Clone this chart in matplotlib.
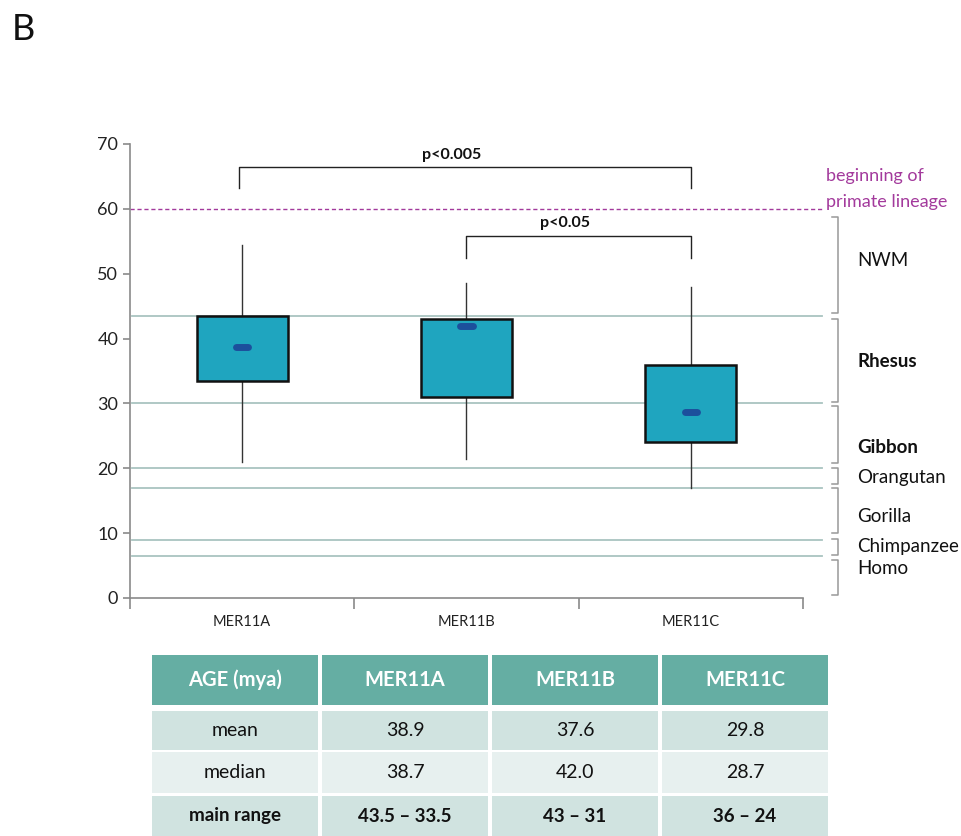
import matplotlib.pyplot as plt
from matplotlib.patches import Rectangle

plt.rcParams['font.family'] = ['Lato', 'DejaVu Sans']

# box plot data (mya)
categories = ['MER11A', 'MER11B', 'MER11C']
box_top = [43.5, 43.0, 36.0]
box_bottom = [33.5, 31.0, 24.0]
medians = [38.7, 42.0, 28.7]
whisker_high = [54.5, 48.5, 48.0]
whisker_low = [21.0, 21.5, 17.0]

# lineage boundaries and labels
boundaries = [43.5, 30, 20, 17, 9, 6.5]
lineage_names = ['NWM', 'Rhesus', 'Gibbon', 'Orangutan', 'Gorilla', 'Chimpanzee', 'Homo']
lineage_top = [58.8, 43.0, 29.6, 20.0, 17.0, 9.1, 5.9]
lineage_bottom = [44.0, 30.2, 20.8, 17.6, 10.0, 6.6, 0.5]
lineage_label_y = [52, 36.4, 23.2, 18.6, 12.6, 7.9, 4.5]
lineage_bold = [False, True, True, False, False, False, False]
primate_start = 60

# significance brackets: (left idx, right idx, bar height, leg bottom, text)
sig_pairs = [(0, 2, 66.4, 63.2, 'p<0.005'), (1, 2, 55.8, 52.5, 'p<0.05')]

# table
table_header = ['AGE (mya)', 'MER11A', 'MER11B', 'MER11C']
table_rows = [
    ['mean', '38.9', '37.6', '29.8'],
    ['median', '38.7', '42.0', '28.7'],
    ['main range', '43.5 \u2013 33.5', '43 \u2013 31', '36 \u2013 24'],
]
row_colors = ['#d0e3e0', '#e7f0ef', '#d0e3e0']
row_bold = [False, False, True]

box_color = '#1fa5bf'
line_color = '#a9c4c0'
purple = '#a33a9c'

fig = plt.figure(figsize=(9.61, 8.36), dpi=100)
fig.text(0.012, 0.965, 'B', fontsize=26, va='center', ha='left', color='#111')

ax = fig.add_axes([130 / 961, 1 - 598 / 836, 673 / 961, 454 / 836])
ax.set_xlim(-0.5, 2.5)
ax.set_ylim(0, 70)

# reference lines
for b in boundaries:
    ax.plot([-0.49, 2.585], [b, b], color=line_color, lw=1.3, clip_on=False, zorder=1)
ax.plot([-0.5, 2.585], [primate_start, primate_start], color=purple, lw=1,
        ls=(0, (3, 2)), clip_on=False, zorder=1)
ax.text(2.603, 65.0, 'beginning of', color=purple, fontsize=13, va='center', ha='left')
ax.text(2.603, 61.0, 'primate lineage', color=purple, fontsize=13, va='center', ha='left')

# boxes
bw = 0.405
for i in range(len(categories)):
    ax.plot([i, i], [box_top[i], whisker_high[i]], color='#333', lw=1, zorder=2)
    ax.plot([i, i], [whisker_low[i], box_bottom[i]], color='#333', lw=1, zorder=2)
    ax.add_patch(Rectangle((i - bw / 2, box_bottom[i]), bw, box_top[i] - box_bottom[i],
                           facecolor=box_color, edgecolor='#111', lw=1.8, zorder=3))
    ax.plot([i - 0.028, i + 0.028], [medians[i], medians[i]], color='#1c4f9c', lw=5,
            solid_capstyle='round', zorder=4)

# significance brackets
for left, right, top, leg, label in sig_pairs:
    xl = left - 0.015 if left == 0 else left
    ax.plot([xl, xl, right, right], [leg, top, top, leg], color='#222', lw=1, zorder=2)
    ax.text((xl + right) / 2 - 0.06, top + 0.9, label, fontsize=11.5, fontweight='bold',
            ha='center', va='bottom', color='#111')

# lineage brackets on the right
for name, t, b, ly, bold in zip(lineage_names, lineage_top, lineage_bottom,
                                 lineage_label_y, lineage_bold):
    ax.plot([2.630, 2.657, 2.657, 2.630], [t, t, b, b], color='#999', lw=1.1, clip_on=False)
    ax.text(2.741, ly, name, fontsize=13.5, va='center', ha='left', color='#111',
            fontweight='bold' if bold else 'normal')

# axes styling
for s in ['top', 'right']:
    ax.spines[s].set_visible(False)
for s in ['left', 'bottom']:
    ax.spines[s].set_color('#8a8a8a')
    ax.spines[s].set_linewidth(1.2)
ax.set_yticks(range(0, 71, 10))
ax.tick_params(axis='y', labelsize=13, colors='#8a8a8a', labelcolor='#222', length=5, width=1.2)
ax.set_xticks([-0.5, 0.5, 1.5, 2.5])
ax.set_xticklabels([])
ax.set_xticks(range(len(categories)), minor=True)
ax.set_xticklabels(categories, minor=True)
ax.tick_params(axis='x', which='major', colors='#8a8a8a', length=8, width=1.2, direction='out')
ax.tick_params(axis='x', which='minor', length=0, labelsize=10.5, labelcolor='#222', pad=12)

# table
tax = fig.add_axes([150 / 961, 0, 680 / 961, 181 / 836])
tax.set_xlim(0, len(table_header))
tax.set_ylim(181, 0)
tax.axis('off')
row_edges = [(0, 50), (56, 95), (97, 138), (141, 181)]
gap = 0.012
for j, txt in enumerate(table_header):
    y0, y1 = row_edges[0]
    tax.add_patch(Rectangle((j + gap, y0), 1 - 2 * gap, y1 - y0, facecolor='#65aea3',
                            edgecolor='none'))
    tax.text(j + 0.5, (y0 + y1) / 2, txt, color='white', fontweight='bold', fontsize=14.5,
             ha='center', va='center')
for r, row in enumerate(table_rows):
    y0, y1 = row_edges[r + 1]
    for j, txt in enumerate(row):
        tax.add_patch(Rectangle((j + gap, y0), 1 - 2 * gap, y1 - y0, facecolor=row_colors[r],
                                edgecolor='none'))
        tax.text(j + 0.5, (y0 + y1) / 2, txt, color='#111',
                 fontsize=13.5 if row_bold[r] else 14,
                 fontweight='bold' if row_bold[r] else 'normal', ha='center', va='center')

fig.savefig('out.png', dpi=100)
